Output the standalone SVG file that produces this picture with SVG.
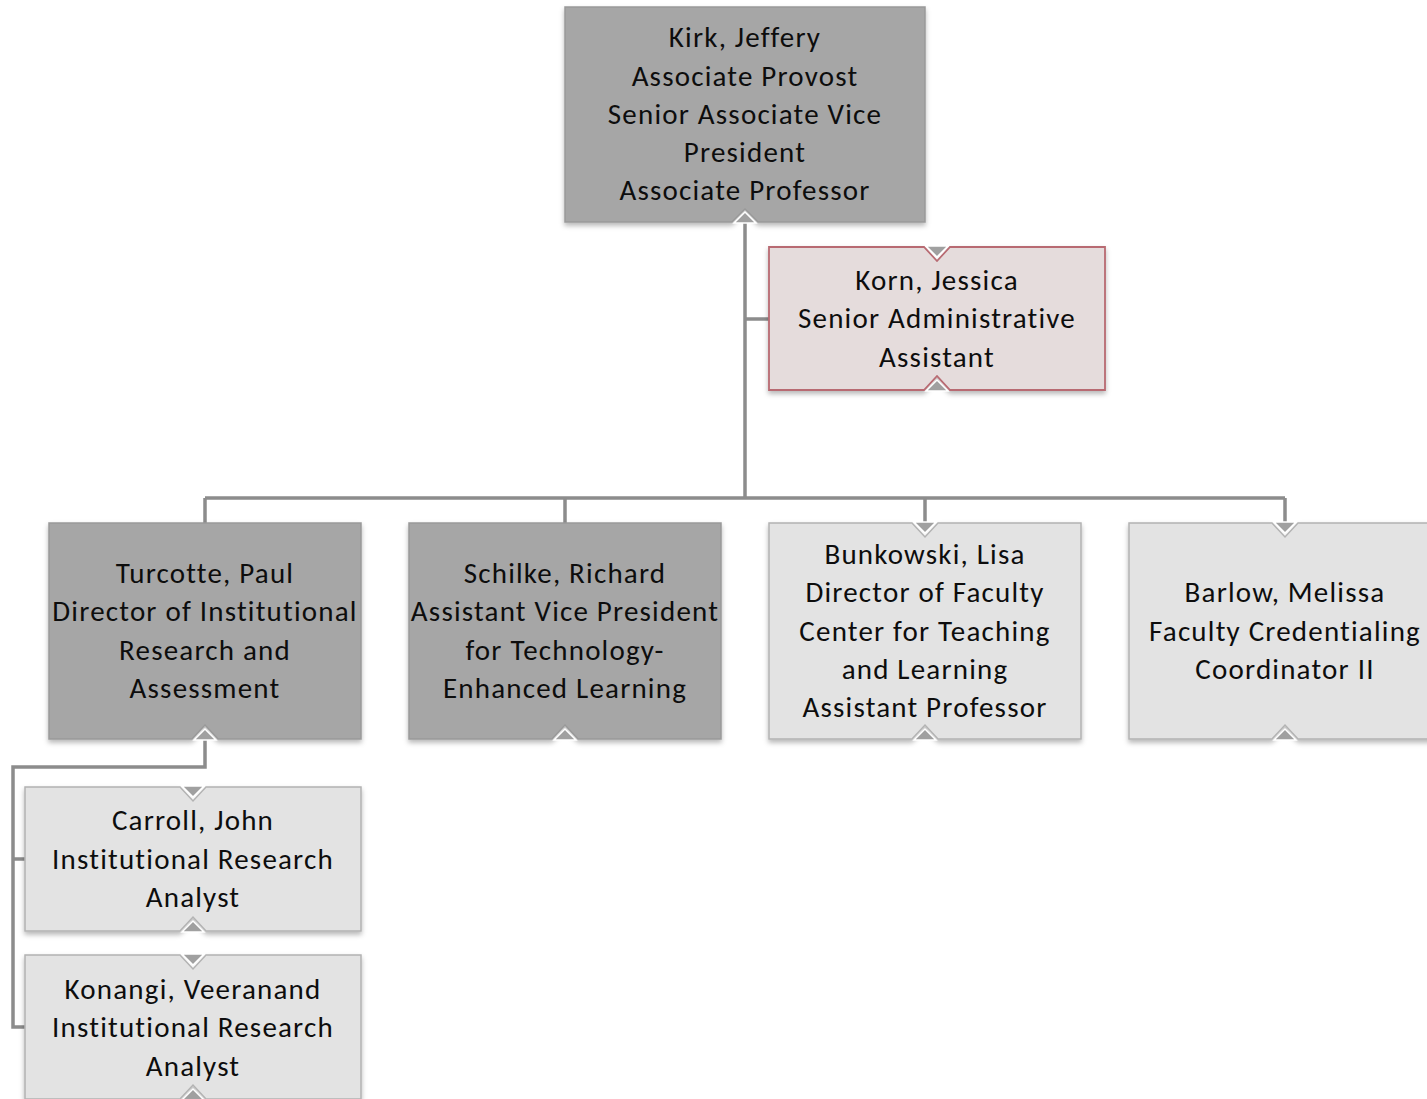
<svg xmlns="http://www.w3.org/2000/svg" width="1427" height="1099" viewBox="0 0 1427 1099">
<defs>
<filter id="sh" x="-5%" y="-5%" width="110%" height="120%">
<feDropShadow dx="0" dy="3" stdDeviation="2.5" flood-color="#000" flood-opacity="0.28"/>
</filter>
<style>
.dark{fill:#A6A6A6;stroke:#999;stroke-width:1.5}
.light{fill:#E3E3E3;stroke:#B3B3B3;stroke-width:1.5}
.pink{fill:#E5DCDC;stroke:#B86A72;stroke-width:1.8}
.tri{fill:#A0A0A0;stroke:#FFF;stroke-width:1.5;stroke-linejoin:miter}
.conn{fill:none;stroke:#8C8C8C;stroke-width:3.5}
text{font-family:Carlito,Calibri,Lato,"Liberation Sans",sans-serif;font-size:29px;letter-spacing:1.2px;fill:#0D0D0D;text-anchor:middle}
</style>
</defs>
<rect width="1427" height="1099" fill="#fff"/>
<g id="connectors">
<path class="conn" d="M745 222 V498 M205 498 H1285 M205 498 V523 M565 498 V523 M925 498 V523 M1285 498 V523 M745 319 H769"/>
<path class="conn" d="M205 739 V767 H13 V1027 H25 M13 859 H25"/>
</g>
<g id="kirk">
<path class="dark" filter="url(#sh)" d="M565 7 H925 V222 H758 L745 209 L732 222 H565 Z"/>
<path class="tri" d="M734 223 L745 212 L756 223 Z"/>
<text x="745" y="47">Kirk, Jeffery</text>
<text x="745" y="86">Associate Provost</text>
<text x="745" y="124">Senior Associate Vice</text>
<text x="745" y="162">President</text>
<text x="745" y="200">Associate Professor</text>
</g>
<g id="korn">
<path class="pink" filter="url(#sh)" d="M769 247 H924 L937 261 L950 247 H1105 V390 H950 L937 376 L924 390 H769 Z"/>
<path class="tri" d="M926 246 L948 246 L937 257 Z M926 391 L937 380 L948 391 Z"/>
<text x="937" y="290">Korn, Jessica</text>
<text x="937" y="328">Senior Administrative</text>
<text x="937" y="367">Assistant</text>
</g>
<g id="turcotte">
<path class="dark" filter="url(#sh)" d="M49 523 H361 V739 H218 L205 725 L192 739 H49 Z"/>
<path class="tri" d="M194 740 L205 729 L216 740 Z"/>
<text x="205" y="583">Turcotte, Paul</text>
<text x="205" y="621">Director of Institutional</text>
<text x="205" y="660">Research and</text>
<text x="205" y="698">Assessment</text>
</g>
<g id="schilke">
<path class="dark" filter="url(#sh)" d="M409 523 H721 V739 H578 L565 725 L552 739 H409 Z"/>
<path class="tri" d="M554 740 L565 729 L576 740 Z"/>
<text x="565" y="583">Schilke, Richard</text>
<text x="565" y="621">Assistant Vice President</text>
<text x="565" y="660">for Technology-</text>
<text x="565" y="698">Enhanced Learning</text>
</g>
<g id="bunkowski">
<path class="light" filter="url(#sh)" d="M769 523 H912 L925 537 L938 523 H1081 V739 H938 L925 725 L912 739 H769 Z"/>
<path class="tri" d="M914 522 L936 522 L925 533 Z M914 740 L925 729 L936 740 Z"/>
<text x="925" y="564">Bunkowski, Lisa</text>
<text x="925" y="602">Director of Faculty</text>
<text x="925" y="641">Center for Teaching</text>
<text x="925" y="679">and Learning</text>
<text x="925" y="717">Assistant Professor</text>
</g>
<g id="barlow">
<path class="light" filter="url(#sh)" d="M1129 523 H1272 L1285 537 L1298 523 H1441 V739 H1298 L1285 725 L1272 739 H1129 Z"/>
<path class="tri" d="M1274 522 L1296 522 L1285 533 Z M1274 740 L1285 729 L1296 740 Z"/>
<text x="1285" y="602">Barlow, Melissa</text>
<text x="1285" y="641">Faculty Credentialing</text>
<text x="1285" y="679">Coordinator II</text>
</g>
<g id="carroll">
<path class="light" filter="url(#sh)" d="M25 787 H180 L193 801 L206 787 H361 V931 H206 L193 917 L180 931 H25 Z"/>
<path class="tri" d="M182 786 L204 786 L193 797 Z M182 932 L193 921 L204 932 Z"/>
<text x="193" y="830">Carroll, John</text>
<text x="193" y="869">Institutional Research</text>
<text x="193" y="907">Analyst</text>
</g>
<g id="konangi">
<path class="light" filter="url(#sh)" d="M25 955 H180 L193 969 L206 955 H361 V1099 H206 L193 1085 L180 1099 H25 Z"/>
<path class="tri" d="M182 954 L204 954 L193 965 Z M182 1100 L193 1089 L204 1100 Z"/>
<text x="193" y="999">Konangi, Veeranand</text>
<text x="193" y="1037">Institutional Research</text>
<text x="193" y="1076">Analyst</text>
</g>
</svg>
